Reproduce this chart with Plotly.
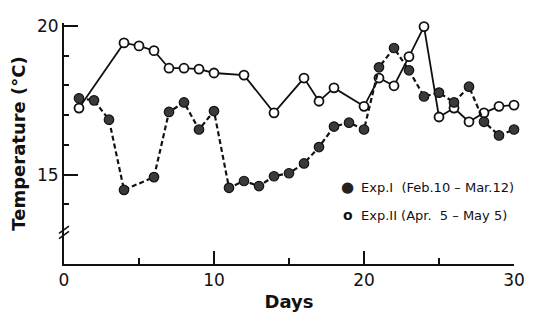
import plotly.graph_objects as go

# Exp. I (Feb. 10 - Mar. 12): filled circles, dashed line
days_1 = [1, 2, 3, 4, 6, 7, 8, 9, 10, 11, 12, 13, 14, 15, 16, 17, 18, 19, 20,
          21, 22, 23, 24, 25, 26, 27, 28, 29, 30]
temp_1 = [17.57, 17.50, 16.85, 14.49, 14.92, 17.11, 17.43, 16.52, 17.14, 14.56,
          14.79, 14.62, 14.95, 15.05, 15.38, 15.93, 16.62, 16.75, 16.52,
          18.61, 19.26, 18.51, 17.63, 17.76, 17.43, 17.96, 16.78, 16.32, 16.52]

# Exp. II (Apr. 5 - May 5): open circles, solid line
days_2 = [1, 4, 5, 6, 7, 8, 9, 10, 12, 14, 16, 17, 18, 20, 21, 22, 23, 24, 25,
          26, 27, 28, 29, 30]
temp_2 = [17.24, 19.43, 19.33, 19.17, 18.58, 18.58, 18.55, 18.42, 18.35, 17.08,
          18.25, 17.47, 17.92, 17.30, 18.25, 17.99, 18.97, 19.98, 16.94,
          17.24, 16.78, 17.08, 17.30, 17.34]

legend_1 = "Exp.I  (Feb.10 \u2013 Mar.12)"
legend_2 = "Exp.II (Apr.  5 \u2013 May 5)"

x_ticks = [0, 10, 20, 30]
y_ticks = [15, 20]

fig = go.Figure()

fig.add_trace(go.Scatter(
    x=days_2, y=temp_2, mode="lines+markers", cliponaxis=False,
    line=dict(color="#111", width=1.8),
    marker=dict(symbol="circle", size=9, color="white",
                line=dict(color="#111", width=1.8)),
    showlegend=False,
))
fig.add_trace(go.Scatter(
    x=days_1, y=temp_1, mode="lines+markers", cliponaxis=False,
    line=dict(color="#111", width=2.2, dash="5px,3px"),
    marker=dict(symbol="circle", size=9.5, color="#3a3a3a",
                line=dict(color="#111", width=1.2)),
    showlegend=False,
))

axis_font = dict(family="DejaVu Sans", size=17, color="#111")

# the page body adds an 8px margin, so the figure is shrunk and shifted to match
fig.update_layout(
    width=525, height=313,
    margin=dict(l=55, r=13, t=8, b=57),
    paper_bgcolor="white", plot_bgcolor="white",
    showlegend=False,
    xaxis=dict(
        range=[0, 30], tickvals=x_ticks, ticktext=[str(v) for v in x_ticks],
        ticks="inside", ticklen=13, tickwidth=2, tickcolor="#111",
        minor=dict(tickvals=[5, 15, 25], ticks="inside", ticklen=6,
                   tickwidth=2, tickcolor="#111"),
        showline=True, linecolor="#111", linewidth=2,
        showgrid=False, zeroline=False, tickfont=axis_font,
        title=dict(text="<b>Days</b>", font=dict(family="DejaVu Sans", size=18,
                                                  color="#111"), standoff=6),
    ),
    yaxis=dict(
        range=[12, 20.1], tickvals=y_ticks, ticktext=[str(v) for v in y_ticks],
        ticks="inside", ticklen=14, tickwidth=2, tickcolor="#111",
        minor=dict(tickvals=[14, 16, 17, 18, 19], ticks="inside", ticklen=5,
                   tickwidth=2, tickcolor="#111"),
        showline=True, linecolor="#111", linewidth=2,
        showgrid=False, zeroline=False, tickfont=axis_font,
        title=dict(text="<b>Temperature (°C)</b>",
                   font=dict(family="DejaVu Sans", size=18, color="#111"),
                   standoff=8),
    ),
)

# axis break marks on the y-axis
for dy in (0.0, 0.022):
    fig.add_shape(type="line", xref="paper", yref="paper",
                  x0=-0.011, x1=0.011, y0=0.105 + dy, y1=0.135 + dy,
                  line=dict(color="#111", width=1.6))

# legend as annotations
leg_font = dict(family="DejaVu Sans", size=13, color="#111")
fig.add_annotation(xref="paper", yref="paper", x=0.631, y=0.319, text="●",
                   showarrow=False, xanchor="center", yanchor="middle",
                   font=dict(family="DejaVu Sans", size=15, color="#222"))
fig.add_annotation(xref="paper", yref="paper", x=0.631, y=0.202, text="<b>o</b>",
                   showarrow=False, xanchor="center", yanchor="middle",
                   font=dict(family="DejaVu Sans", size=14, color="#111"))
fig.add_annotation(xref="paper", yref="paper", x=0.655, y=0.319, text=legend_1,
                   showarrow=False, xanchor="left", yanchor="middle", font=leg_font)
fig.add_annotation(xref="paper", yref="paper", x=0.655, y=0.202, text=legend_2,
                   showarrow=False, xanchor="left", yanchor="middle", font=leg_font)

fig.write_html("out.html")
